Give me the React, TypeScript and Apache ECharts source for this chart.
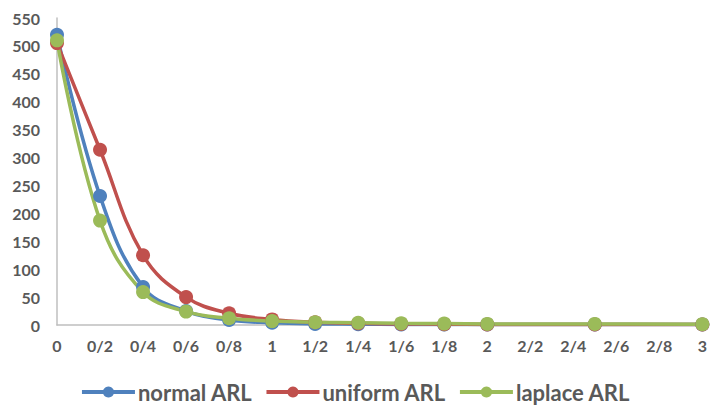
import React, { useEffect, useRef } from "react";
import * as echarts from "echarts";

const xValues = [0, 0.2, 0.4, 0.6, 0.8, 1.0, 1.2, 1.4, 1.6, 1.8, 2.0, 2.5, 3.0];
const normalARL = [520, 231, 68, 25, 9, 4, 2, 1.5, 1, 1, 1, 1, 1];
const uniformARL = [505, 314, 125, 50, 21, 10, 5, 3, 2, 1.5, 1, 1, 1];
const laplaceARL = [510, 187, 59, 24, 12, 7, 5, 4, 3, 2.5, 2, 2, 1.5];
const seriesNames = ["normal ARL", "uniform ARL", "laplace ARL"];
const colors = ["#4F81BD", "#C0504D", "#9BBB59"];

const FONT = "Lato, 'Open Sans', sans-serif";

export default function App() {
  const ref = useRef<HTMLDivElement>(null);
  useEffect(() => {
    if (!ref.current) return;
    const chart = echarts.init(ref.current, undefined, { renderer: "svg" });
    const all = [normalARL, uniformARL, laplaceARL];
    chart.setOption({
      animation: false,
      color: colors,
      grid: { left: 57, right: 4, top: 18, bottom: 85 },
      legend: {
        bottom: 2,
        left: "center",
        itemWidth: 53,
        itemHeight: 14,
        itemGap: 12,
        lineStyle: { width: 4 },
        textStyle: { fontFamily: FONT, fontWeight: "bold", fontSize: 22, color: "#595959", padding: [0, 0, 0, -2] },
        data: seriesNames,
      },
      xAxis: {
        type: "value",
        min: 0,
        max: 3,
        interval: 0.2,
        splitLine: { show: false },
        axisTick: { show: false },
        axisLine: { show: true, lineStyle: { color: "#BFBFBF", width: 1.5 } },
        axisLabel: {
          margin: 12,
          color: "#595959",
          fontFamily: FONT,
          fontWeight: "bold",
          fontSize: 16,
          formatter: (v: number) => String(Math.round(v * 10) / 10).replace(".", "/"),
        },
      },
      yAxis: {
        type: "value",
        min: 0,
        max: 550,
        interval: 50,
        splitLine: { show: false },
        axisTick: { show: false },
        axisLine: { show: true, lineStyle: { color: "#BFBFBF", width: 1.5 } },
        axisLabel: {
          margin: 17,
          color: "#595959",
          fontFamily: FONT,
          fontWeight: "bold",
          fontSize: 16,
        },
      },
      series: seriesNames.map((name, i) => ({
        name,
        type: "line",
        smooth: 0.4,
        symbol: "circle",
        symbolSize: 14,
        lineStyle: { width: 3.5, color: colors[i] },
        itemStyle: { color: colors[i] },
        data: xValues.map((x, j) => [x, all[i][j]]),
      })),
    });
    return () => chart.dispose();
  }, []);
  return <div ref={ref} style={{ width: 710, height: 410, position: "absolute", left: 0, top: 0 }} />;
}
